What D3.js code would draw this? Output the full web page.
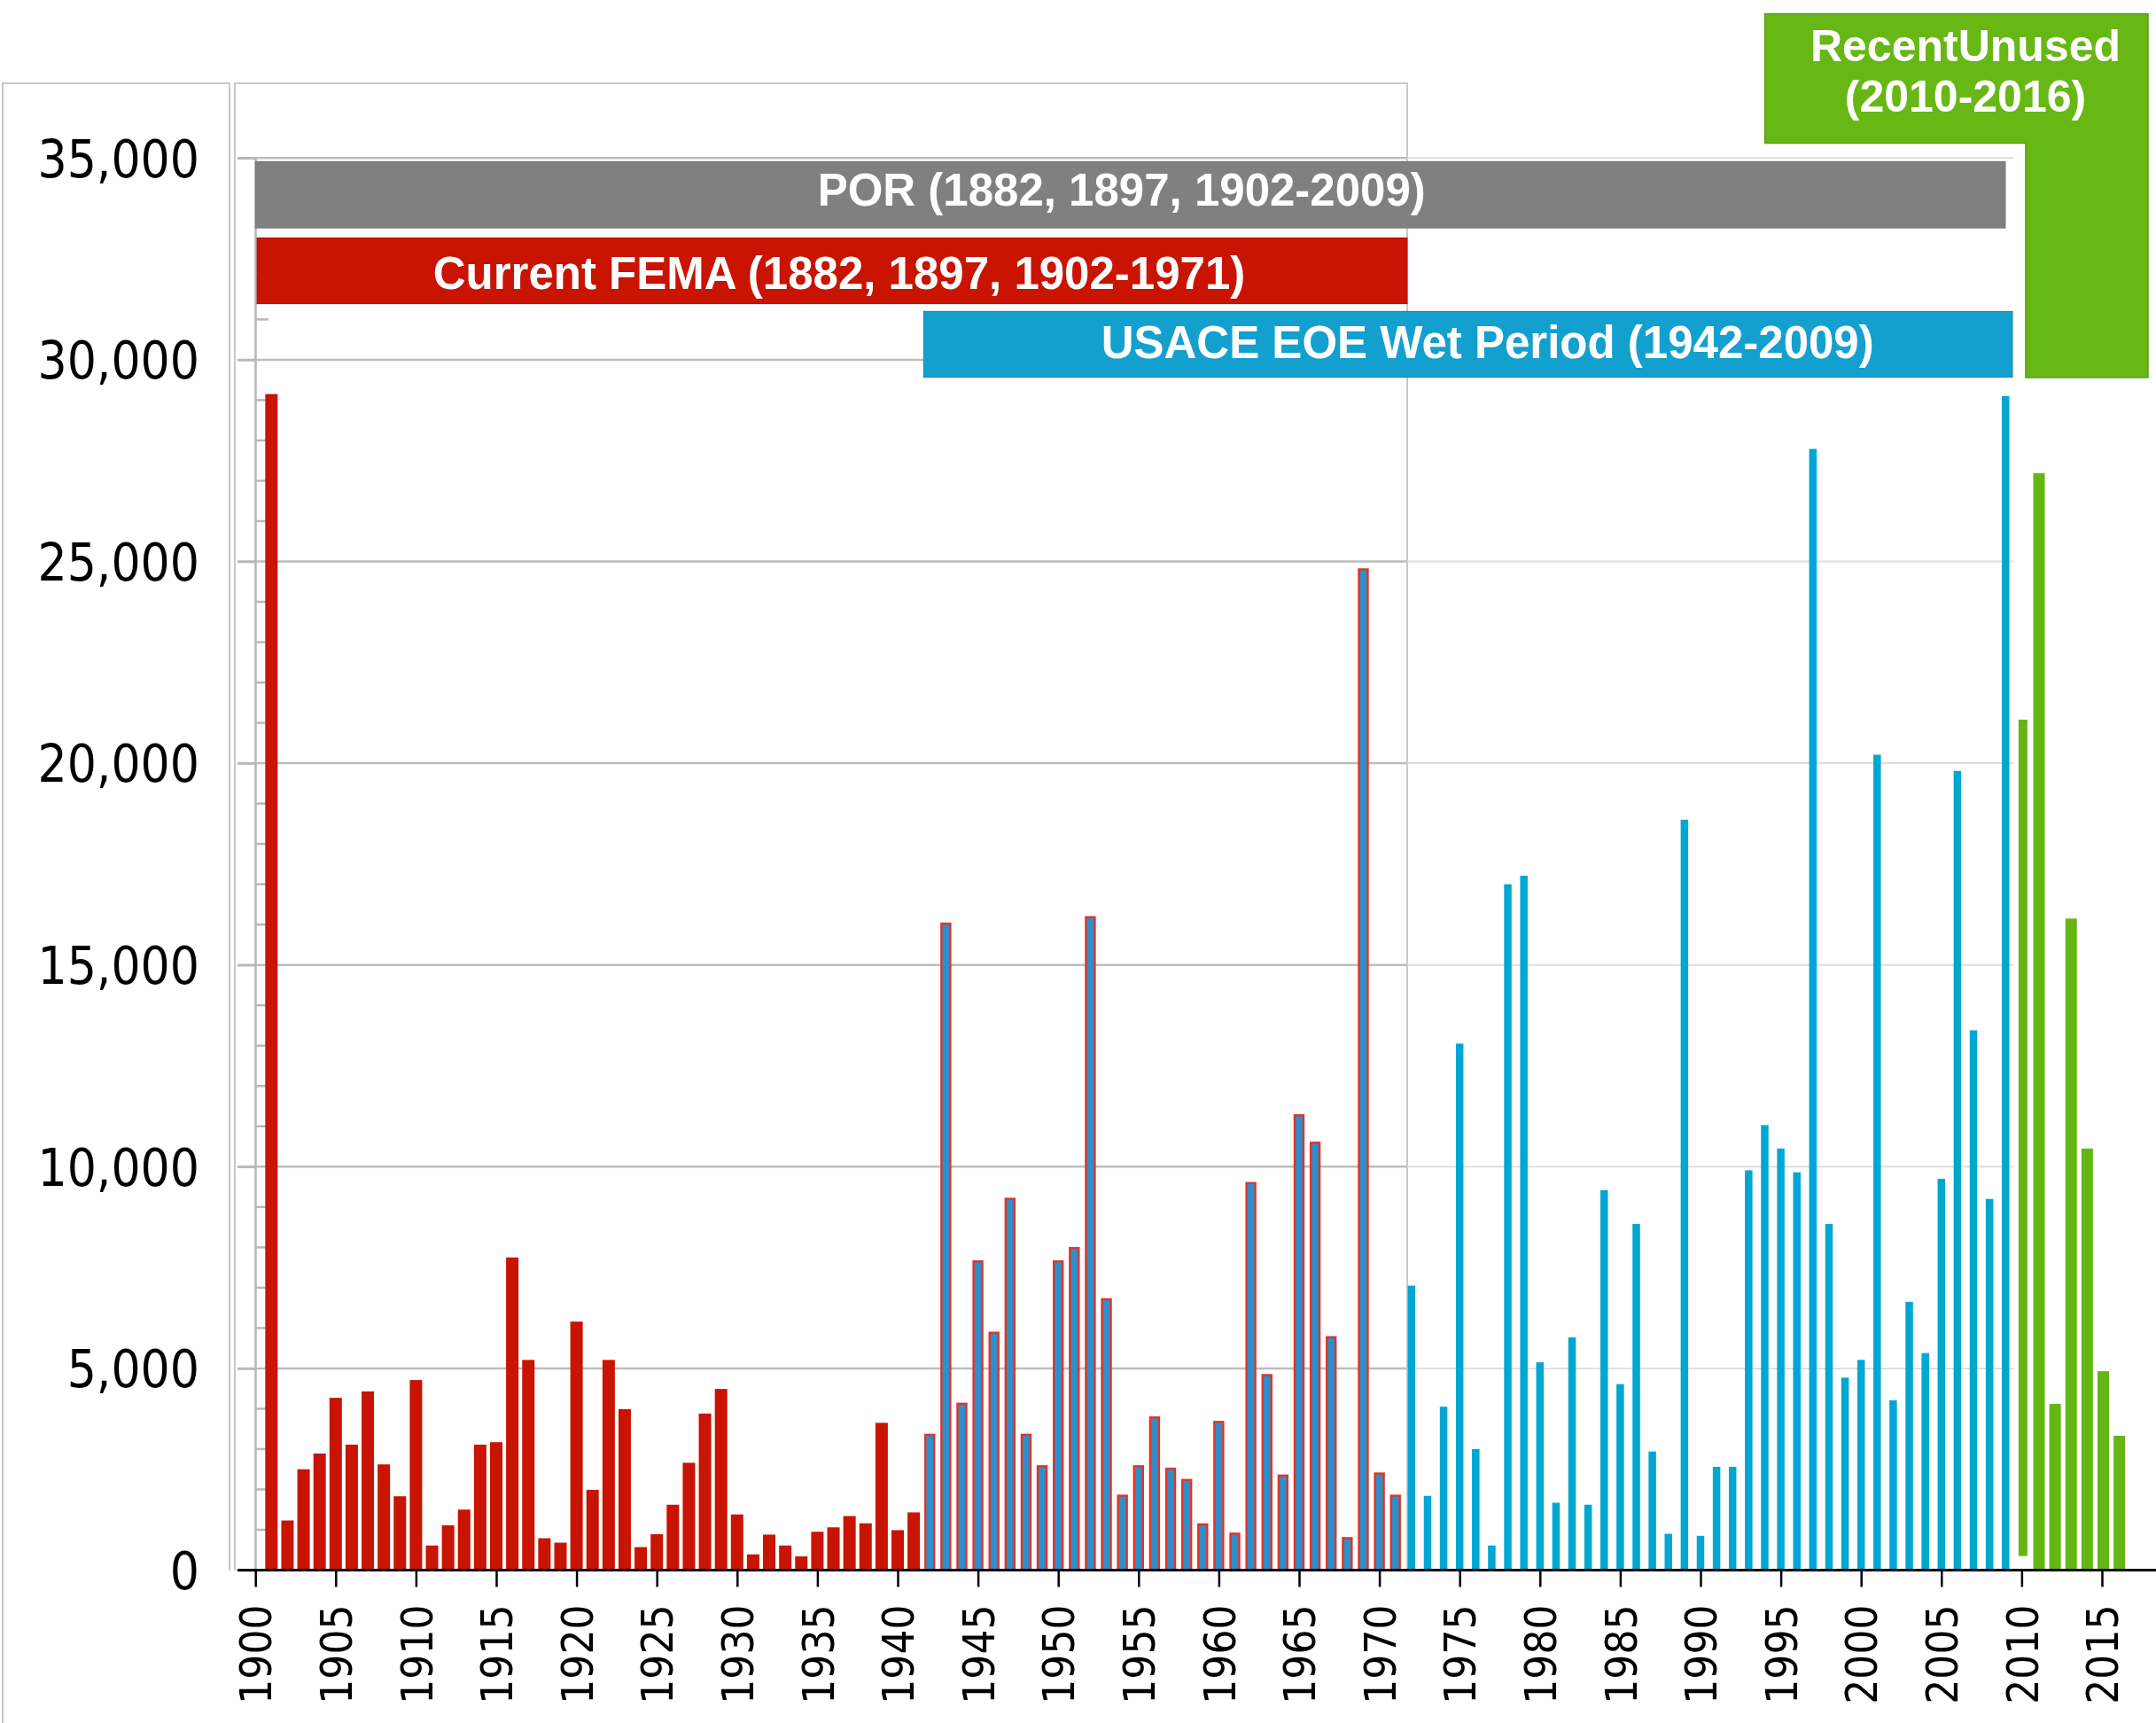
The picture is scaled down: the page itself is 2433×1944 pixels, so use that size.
<!DOCTYPE html>
<html><head><meta charset="utf-8">
<script src="https://cdn.jsdelivr.net/npm/d3@7/dist/d3.min.js"></script>
<style>
html,body{margin:0;padding:0;background:#fff;}
svg{display:block;}
</style></head><body>
<svg id="chart" width="2433" height="1944"></svg>
<script>
// ---------- data ----------
const femaYears = d3.range(1901, 1942);
const femaValues = [29150, 1230, 2500, 2890, 4270, 3110, 4430, 2620, 1830, 4710,
  610, 1110, 1500, 3110, 3170, 7750, 5210, 790, 680, 6160,
  1990, 5210, 3990, 570, 890, 1620, 2660, 3880, 4490, 1380,
  390, 880, 610, 340, 950, 1060, 1340, 1160, 3650, 990, 1430];
const overlapYears = d3.range(1942, 1972);
const overlapValues = [3380, 16050, 4150, 7680, 5910, 9230, 3380, 2600, 7680, 8010,
  16210, 6740, 1870, 2600, 3810, 2540, 2260, 1160, 3700, 930,
  9620, 4860, 2370, 11300, 10620, 5800, 820, 24830, 2420, 1870];
const wetYears = d3.range(1972, 2010);
const wetValues = [7050, 1840, 4050, 13050, 3000, 610, 17000, 17210, 5150, 1670,
  5770, 1620, 9420, 4610, 8580, 2940, 900, 18600, 850, 2560,
  2560, 9910, 11030, 10450, 9860, 27790, 8580, 4770, 5210, 20210,
  4210, 6650, 5380, 9700, 19810, 13380, 9200, 29100];
const recentYears = d3.range(2010, 2017);
const recentValues = [21080, 27190, 4120, 16150, 10450, 4930, 3330];
const recentBase = [350, 0, 0, 0, 0, 0, 0];
const yTickValues = [0, 5000, 10000, 15000, 20000, 25000, 30000, 35000];
const xTickValues = d3.range(1900, 2016, 5);
const bannerTexts = ["POR (1882, 1897, 1902-2009)", "Current FEMA (1882, 1897, 1902-1971)",
  "USACE EOE Wet Period (1942-2009)"];
const recentLabel = ["RecentUnused", "(2010-2016)"];

// ---------- layout ----------
const svg = d3.select("#chart");
const x = d3.scaleLinear().domain([1900, 2016]).range([288.2, 2390.1]);
const y = d3.scaleLinear().domain([0, 35000]).range([1771.5, 178.3]);
const numFont = "'DejaVu Sans Condensed','DejaVu Sans',sans-serif";
const boldFont = "'Liberation Sans',Arial,sans-serif";

// panels
const frame = svg.append("g").attr("fill", "none").attr("stroke", "#c8c8c8").attr("stroke-width", 2);
frame.append("path").attr("d", "M3,1944 V94 H259 V1772");
frame.append("path").attr("d", "M265,1772 V94 H1588 V1772");

// gridlines
const grid = svg.append("g");
grid.selectAll("line.gl").data(yTickValues.filter(d => d > 0)).join("line")
  .attr("x1", 268).attr("x2", 1588).attr("y1", d => y(d)).attr("y2", d => y(d))
  .attr("stroke", "#bdbdbd").attr("stroke-width", 2.5);
grid.selectAll("line.gr").data(yTickValues.filter(d => d > 0)).join("line")
  .attr("x1", 1588).attr("x2", 2272).attr("y1", d => y(d)).attr("y2", d => y(d))
  .attr("stroke", "#dedede").attr("stroke-width", 2);

// y axis
const yAxis = svg.append("g").attr("transform", "translate(288,0)")
  .call(d3.axisLeft(y).tickValues(yTickValues).tickSize(20).tickPadding(43)
    .tickFormat(d3.format(",")));
yAxis.select(".domain").attr("stroke", "#b8b8b8").attr("stroke-width", 2.5);
yAxis.selectAll(".tick line").attr("stroke", "#b8b8b8").attr("stroke-width", 2.5);
yAxis.selectAll(".tick text").attr("font-family", numFont).attr("font-size", 58)
  .attr("fill", "#000").attr("dy", "0.36em");
// minor ticks
svg.append("g").selectAll("line").data(d3.range(1000, 35000, 1000).filter(d => d % 5000 !== 0)).join("line")
  .attr("x1", 288).attr("x2", 303).attr("y1", d => y(d)).attr("y2", d => y(d))
  .attr("stroke", "#b8b8b8").attr("stroke-width", 2.5);

// bars
const bars = svg.append("g");
bars.selectAll("rect.fema").data(femaYears.map((yr, i) => ({yr, v: femaValues[i]}))).join("rect")
  .attr("x", d => x(d.yr) - 7).attr("width", 14)
  .attr("y", d => y(d.v)).attr("height", d => y(0) - y(d.v))
  .attr("fill", "#c81400");
bars.selectAll("rect.ov").data(overlapYears.map((yr, i) => ({yr, v: overlapValues[i]}))).join("rect")
  .attr("x", d => x(d.yr) - 5).attr("width", 10)
  .attr("y", d => y(d.v) + 1.2).attr("height", d => y(0) - y(d.v) - 1.2)
  .attr("fill", "#2f8fca").attr("stroke", "#e0342a").attr("stroke-width", 2.4);
bars.selectAll("rect.wet").data(wetYears.map((yr, i) => ({yr, v: wetValues[i]}))).join("rect")
  .attr("x", d => x(d.yr) - 4.25).attr("width", 8.5)
  .attr("y", d => y(d.v)).attr("height", d => y(0) - y(d.v))
  .attr("fill", "#00a7d3");
bars.selectAll("rect.rec").data(recentYears.map((yr, i) => ({yr, v: recentValues[i], b: recentBase[i]}))).join("rect")
  .attr("x", d => x(d.yr) - (d.b > 0 ? 5 : 6.5) + 1.5).attr("width", d => d.b > 0 ? 10 : 13)
  .attr("y", d => y(d.v)).attr("height", d => y(d.b) - y(d.v))
  .attr("fill", "#66b514");

// x axis
const xAxis = svg.append("g").attr("transform", `translate(0,${y(0)})`)
  .call(d3.axisBottom(x).tickValues(xTickValues).tickSize(19).tickFormat(d3.format("d")));
xAxis.select(".domain").attr("d", `M268,0H2433`).attr("stroke", "#000").attr("stroke-width", 3);
xAxis.selectAll(".tick line").attr("stroke", "#000").attr("stroke-width", 2.5);
xAxis.selectAll(".tick text").attr("font-family", numFont).attr("font-size", 49).attr("fill", "#000")
  .attr("transform", "rotate(-90)").attr("x", -39).attr("y", 0).attr("dy", "0.36em")
  .attr("text-anchor", "end");

// banners
const ban = svg.append("g");
const banners = [
  {x0: x(1900), x1: x(2009), y0: 182, y1: 257.6, fill: "#808080", text: bannerTexts[0], base: 232, dx: -10},
  {x0: x(1900) + 1.5, x1: x(1971.75), y0: 268, y1: 343, fill: "#c81400", text: bannerTexts[1], base: 326, dx: 8},
  {x0: x(1941.6), x1: x(2009.45), y0: 351, y1: 426, fill: "#14a0ce", text: bannerTexts[2], base: 404, dx: 22}
];
ban.selectAll("rect").data(banners).join("rect")
  .attr("x", d => d.x0).attr("width", d => d.x1 - d.x0)
  .attr("y", d => d.y0).attr("height", d => d.y1 - d.y0)
  .attr("fill", d => d.fill).attr("stroke", "rgba(0,0,0,0.12)").attr("stroke-width", 1.5);
ban.selectAll("text").data(banners).join("text")
  .attr("x", d => (d.x0 + d.x1) / 2 + d.dx)
  .attr("y", d => d.base)
  .attr("text-anchor", "middle").attr("font-family", boldFont).attr("font-weight", "bold")
  .attr("font-size", 51).attr("fill", "#fff").text(d => d.text);

// green L-shaped label
const gx0 = 1991.6, gx1 = 2424, gv = x(2010.25);
svg.append("path")
  .attr("d", `M${gx0},15.6 H${gx1} V426 H${gv} V161.6 H${gx0} Z`)
  .attr("fill", "#67b715").attr("stroke", "#5c9f18").attr("stroke-width", 1.5);
svg.append("g").selectAll("text").data(recentLabel).join("text")
  .attr("x", 2218).attr("y", (d, i) => i === 0 ? 69 : 126)
  .attr("text-anchor", "middle").attr("font-family", boldFont).attr("font-weight", "bold")
  .attr("font-size", 50).attr("fill", "#fff").text(d => d);
</script>
</body></html>
